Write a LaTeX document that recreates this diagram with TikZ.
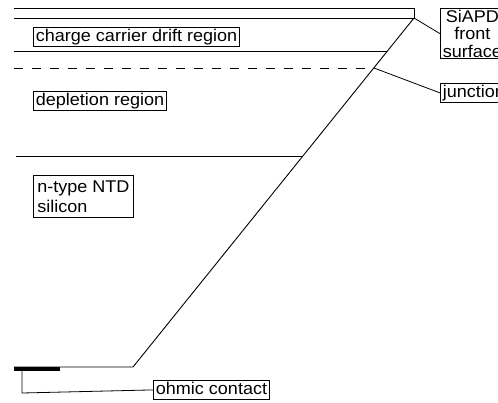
\documentclass[tikz,border=0pt]{standalone}
\usepackage{fontspec}
\setmainfont[FakeStretch=1.06]{Liberation Sans}
\begin{document}
\begin{tikzpicture}[x=1pt,y=-1pt,
  lbl/.style={draw,line width=0.8pt,inner xsep=2.5pt,inner ysep=1.5pt,font=\fontsize{17}{17.5}\selectfont,anchor=north west},
  one/.style={text height=12.5pt,text depth=3.5pt},
  edge/.style={line width=0.9pt},
  conn/.style={line width=0.8pt}]
\clip (0,0) rectangle (498,402);
\fill[white] (0,0) rectangle (498,402);
% geometry
\coordinate (TL1) at (14,8);
\coordinate (TR1) at (414,8);
\coordinate (F) at (414,18);
\coordinate (TL2) at (14,18);
\coordinate (B) at (133,367);
\coordinate (BL) at (14,367);
\coordinate (D1) at (14,51);
\coordinate (D2) at (387,51);
\coordinate (J1) at (14,68);
\coordinate (J) at (374,68);
\coordinate (N1) at (16,156);
\coordinate (N2) at (303,156);
\coordinate (C1) at (14,369);
\coordinate (C2) at (60,369);
\coordinate (CL) at (22,369);
\coordinate (CB) at (22,393);
% lines
\draw[edge] (TL1) -- (TR1) -- (F) -- (TL2);
\draw[edge] (F) -- (B) -- (BL);
\draw[edge] (D1) -- (D2);
\draw[edge,dash pattern=on 9pt off 9pt] (J1) -- (J);
\draw[edge] (N1) -- (N2);
\draw[line width=4pt] (C1) -- (C2);
% labels
\node[lbl,one] (drift) at (33,27) {charge carrier drift region};
\node[lbl,one] (depl) at (33,91) {depletion region};
\node[lbl,align=left,inner ysep=5pt,inner xsep=4pt,font=\fontsize{17}{20}\selectfont] (ntd) at (33,175) {n-type NTD\\silicon};
\node[lbl,align=center] (siapd) at (440,8) {SiAPD\\front\\surface};
\node[lbl,one] (junc) at (440,83) {junction};
\node[lbl,one] (ohm) at (153,380) {ohmic contact};
% connectors
\draw[conn] (F) -- (siapd.west);
\draw[conn] (J) -- (junc.west);
\draw[conn] (CL) -- (CB) -- (ohm.west);
\end{tikzpicture}
\end{document}
